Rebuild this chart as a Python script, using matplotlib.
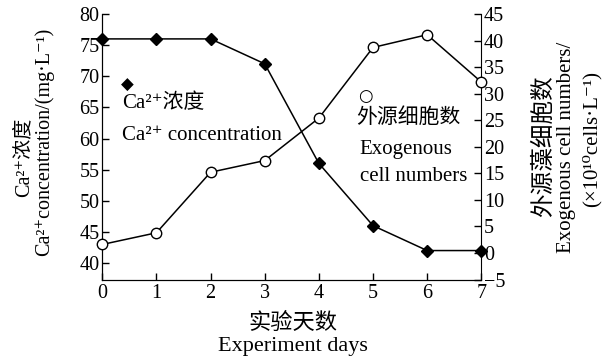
import matplotlib
matplotlib.use("Agg")
import matplotlib.pyplot as plt

plt.rcParams['font.family'] = ['Liberation Serif', 'Noto Sans CJK SC', 'DejaVu Serif']
plt.rcParams['font.size'] = 15

# data
days = [0, 1, 2, 3, 4, 5, 6, 7]
ca_conc = [76, 76, 76, 72, 56, 46, 42, 42]            # mg/L, left axis
cell_numbers = [1.6, 3.8, 15.2, 17.4, 25.4, 38.7, 41.1, 32.2]  # x10^10 cells/L, right axis

left_ticks = [40, 45, 50, 55, 60, 65, 70, 75, 80]
right_ticks = [-5, 0, 5, 10, 15, 20, 25, 30, 35, 40, 45]

fig = plt.figure(figsize=(6.1, 3.6), dpi=100)
ax = fig.add_axes([0.1677, 0.2236, 0.6213, 0.7375])
ax2 = ax.twinx()

ax.plot(days, ca_conc, color="black", lw=1.1, marker="D", ms=6.5,
        mfc="black", mec="black", clip_on=False, zorder=3)
ax2.plot(days, cell_numbers, color="black", lw=1.1, marker="o", ms=7.5,
         mfc="white", mec="black", mew=1, clip_on=False, zorder=3)

ax.set_xlim(0, 7)
ax.set_ylim(37.35, 80)
ax2.set_ylim(-5, 45)
ax.set_xticks(days)
ax.set_yticks(left_ticks)
ax2.set_yticks(right_ticks)
ax2.set_yticklabels([str(t).replace("-", "\u2212") for t in right_ticks])

for a in (ax, ax2):
    a.spines["top"].set_visible(False)
    a.tick_params(direction="in", length=5, width=1, labelsize=14.5, pad=2)
ax.tick_params(axis="x", pad=3)
ax.spines["right"].set_visible(False)

# legend-like annotations
ax.text(0.065, 0.733, "\u25c6", transform=ax.transAxes, ha="center", va="center",
        fontsize=12, family="DejaVu Sans")
ax.text(0.051, 0.665, "Ca\u00b2\u207a浓度", transform=ax.transAxes, ha="left", va="center", fontsize=15)
ax.text(0.051, 0.544, "Ca\u00b2\u207a concentration", transform=ax.transAxes, ha="left", va="center", fontsize=15)
ax.text(0.694, 0.692, "\u25cb", transform=ax.transAxes, ha="center", va="center",
        fontsize=12, family="DejaVu Sans")
ax.text(0.671, 0.607, "外源细胞数", transform=ax.transAxes, ha="left", va="center", fontsize=15)
ax.text(0.677, 0.488, "Exogenous", transform=ax.transAxes, ha="left", va="center", fontsize=15)
ax.text(0.681, 0.388, "cell numbers", transform=ax.transAxes, ha="left", va="center", fontsize=15)

# axis titles
fig.text(24 / 610, 1 - 157 / 360, "Ca\u00b2\u207a浓度", rotation=90, ha="center", va="center", fontsize=14.5)
fig.text(44 / 610, 1 - 142 / 360, "Ca\u00b2\u207aconcentration/(mg\u00b7L\u207b\u00b9)",
         rotation=90, ha="center", va="center", fontsize=14.5)
fig.text(544 / 610, 1 - 146 / 360, "外源藻细胞数", rotation=90, ha="center", va="center", fontsize=17)
fig.text(567 / 610, 1 - 147 / 360, "Exogenous cell numbers/", rotation=90, ha="center", va="center", fontsize=15)
fig.text(592 / 610, 1 - 139 / 360, "(\u00d710\u00b9\u2070cells\u00b7L\u207b\u00b9)",
         rotation=90, ha="center", va="center", fontsize=15)
fig.text(293 / 610, 1 - 323 / 360, "实验天数", ha="center", va="center", fontsize=16)
fig.text(293 / 610, 1 - 346 / 360, "Experiment days", ha="center", va="center", fontsize=16)

fig.savefig("out.png", dpi=100)
